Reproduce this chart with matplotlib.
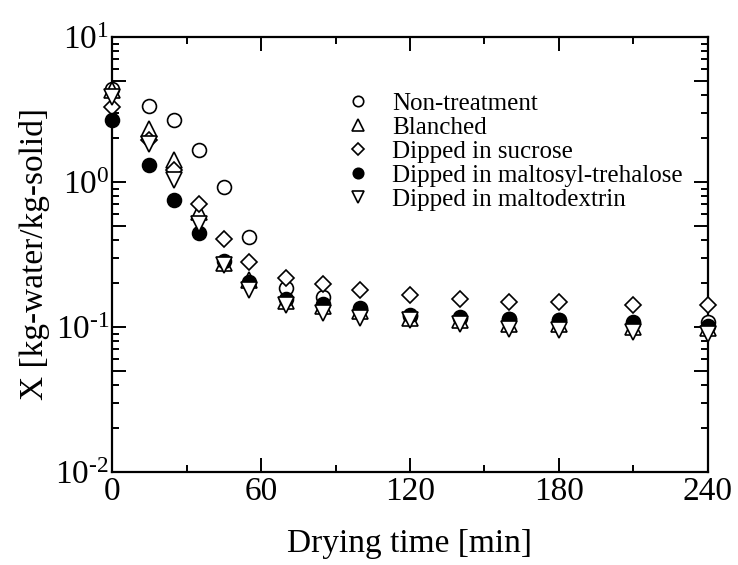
import numpy as np
import matplotlib
matplotlib.use("Agg")
import matplotlib.pyplot as plt
from matplotlib.ticker import LogLocator, FixedLocator, FuncFormatter, NullFormatter

plt.rcParams["font.family"] = ["Liberation Serif", "DejaVu Serif"]
plt.rcParams["mathtext.fontset"] = "custom"
plt.rcParams["mathtext.rm"] = "Liberation Serif"
plt.rcParams["mathtext.it"] = "Liberation Serif:italic"

# drying time [min]
time_min = [0, 15, 25, 35, 45, 55, 70, 85, 100, 120, 140, 160, 180, 210, 240]

# moisture content X [kg-water/kg-solid]
non_treatment = [4.41, 3.33, 2.67, 1.66, 0.92, 0.418, 0.187, 0.161, 0.136, 0.120, 0.115, 0.113, 0.111, 0.108, 0.108]
blanched = [4.30, 2.33, 1.41, 0.62, 0.275, 0.210, 0.152, 0.140, 0.128, 0.116, 0.112, 0.105, 0.105, 0.100, 0.099]
sucrose = [3.29, 1.94, 1.21, 0.70, 0.407, 0.281, 0.218, 0.199, 0.179, 0.166, 0.155, 0.149, 0.149, 0.141, 0.141]
maltosyl_trehalose = [2.67, 1.32, 0.757, 0.445, 0.285, 0.204, 0.157, 0.145, 0.134, 0.121, 0.117, 0.114, 0.111, 0.106, 0.101]
maltodextrin = [3.86, 1.84, 1.04, 0.516, 0.267, 0.179, 0.141, 0.124, 0.116, 0.111, 0.105, 0.0975, 0.095, 0.0925, 0.090]

series = [
    ("Non-treatment", non_treatment, "o", "white", 10),
    ("Blanched", blanched, "^", "white", 12),
    ("Dipped in sucrose", sucrose, "D", "white", 8),
    ("Dipped in maltosyl-trehalose", maltosyl_trehalose, "o", "black", 10),
    ("Dipped in maltodextrin", maltodextrin, "v", "white", 12),
]

fig = plt.figure(figsize=(7.38, 5.65), dpi=100)
ax = fig.add_axes([112 / 738, 1 - 472 / 565, 596 / 738, 435 / 565])

for label, vals, mk, fc, ms in series:
    ax.plot(time_min, vals, linestyle="none", marker=mk, markersize=ms,
            markerfacecolor=fc, markeredgecolor="black", markeredgewidth=1.2,
            label=label, clip_on=False, zorder=3)

ax.set_yscale("log")
ax.set_xlim(0, 240)
ax.set_ylim(1e-2, 1e1)

ax.xaxis.set_major_locator(FixedLocator([0, 60, 120, 180, 240]))
ax.xaxis.set_minor_locator(FixedLocator([30, 90, 150, 210]))

# long ticks at 1 and 5 of each decade, short ticks elsewhere
ax.yaxis.set_major_locator(LogLocator(base=10, subs=(1.0, 5.0)))
ax.yaxis.set_minor_locator(LogLocator(base=10, subs=(2, 3, 4, 6, 7, 8, 9)))


def pow_label(v, pos):
    e = np.log10(v)
    if abs(e - round(e)) > 1e-6:
        return ""
    return "10$^{\\text{%d}}$" % int(round(e))


ax.yaxis.set_major_formatter(FuncFormatter(pow_label))
ax.yaxis.set_minor_formatter(NullFormatter())

ax.tick_params(which="both", direction="in", top=True, right=True, width=1.4,
               labelsize=24, colors="black")
ax.tick_params(which="major", length=10)
ax.tick_params(which="minor", length=5)
ax.tick_params(axis="x", pad=3)
ax.tick_params(axis="y", pad=2)
for sp in ax.spines.values():
    sp.set_linewidth(1.6)

ax.set_xlabel("Drying time [min]", fontsize=24, labelpad=16)
ax.set_ylabel("X [kg-water/kg-solid]", fontsize=24, labelpad=4)

leg = ax.legend(loc="upper left", bbox_to_anchor=(0.392, 0.872), frameon=False,
                fontsize=18, markerscale=0.75, handlelength=1.0, handletextpad=0.85,
                labelspacing=0.06, borderaxespad=0, borderpad=0)

fig.savefig("out.png", dpi=100)
